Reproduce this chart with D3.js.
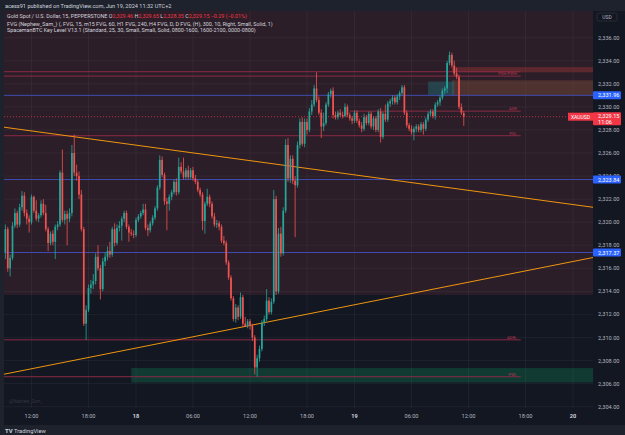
<!DOCTYPE html>
<html><head><meta charset="utf-8">
<script src="https://cdn.jsdelivr.net/npm/d3@7/dist/d3.min.js"></script>
<style>html,body{margin:0;padding:0;background:#1e222d;}svg{display:block;font-family:Roboto,"Liberation Sans",sans-serif;}</style>
</head><body><svg id="c" width="625" height="435"></svg>
<script>
// ---------- DATA ----------
const firstBar = -55; // bar index of first candle (0 = 18 Jun 00:00, 15-minute bars)
const candles = [ // [open, high, low, close]
[2317.4,2319.8,2316.8,2319.4],[2319.4,2319.6,2315.7,2316.0],[2316.0,2317.2,2315.3,2316.9],[2316.9,2320.0,2316.7,2319.7],
[2319.7,2321.2,2319.5,2320.8],[2320.8,2321.0,2319.5,2319.8],[2319.8,2321.6,2319.6,2321.3],[2321.3,2322.7,2321.0,2322.3],
[2322.3,2322.6,2320.5,2320.8],[2320.8,2321.1,2319.8,2320.3],[2320.3,2320.6,2319.1,2320.0],[2320.0,2322.4,2319.8,2322.2],
[2322.2,2322.3,2320.8,2321.0],[2321.0,2321.9,2320.1,2320.3],[2320.3,2320.8,2320.0,2320.6],[2320.6,2321.9,2320.4,2321.6],
[2321.6,2322.0,2320.6,2320.8],[2320.8,2321.5,2319.2,2319.4],[2319.4,2319.6,2317.5,2318.2],[2318.2,2319.2,2318.0,2319.0],
[2319.0,2319.3,2318.0,2318.3],[2318.3,2319.8,2316.8,2319.6],[2319.6,2320.1,2319.3,2319.8],[2319.8,2324.5,2319.6,2324.3],
[2324.3,2326.3,2320.0,2320.2],[2320.2,2321.0,2319.8,2320.7],[2320.7,2321.0,2318.0,2320.3],[2320.3,2321.2,2320.0,2320.8],
[2320.8,2326.7,2320.5,2326.0],[2326.0,2327.6,2324.0,2324.3],[2324.3,2325.0,2323.6,2324.0],[2324.0,2324.4,2322.0,2322.4],
[2322.4,2322.8,2319.2,2319.4],[2319.4,2319.6,2311.0,2311.2],[2311.2,2312.8,2309.8,2312.4],[2312.4,2314.6,2312.2,2314.3],
[2314.3,2315.0,2313.8,2314.6],[2314.6,2315.5,2314.2,2314.9],[2314.9,2317.3,2314.6,2317.0],[2317.0,2318.0,2315.8,2316.0],
[2316.0,2316.3,2313.3,2314.2],[2314.2,2316.9,2314.0,2316.6],[2316.6,2317.4,2316.2,2317.0],[2317.0,2317.9,2316.7,2317.5],
[2317.5,2318.3,2316.9,2317.2],[2317.2,2319.6,2317.0,2319.4],[2319.4,2319.9,2317.9,2318.2],[2318.2,2319.8,2318.0,2319.5],
[2319.5,2320.1,2319.2,2319.7],[2319.7,2320.5,2318.4,2320.3],[2320.3,2321.0,2320.0,2320.8],[2320.8,2321.0,2319.4,2319.6],
[2319.6,2319.8,2318.3,2319.1],[2319.1,2319.4,2318.8,2319.0],[2319.0,2319.3,2318.6,2318.9],
[2318.9,2320.4,2318.7,2320.2],[2320.2,2320.7,2320.0,2320.5],[2320.5,2321.0,2320.3,2320.8],[2320.8,2321.6,2320.6,2321.1],
[2321.1,2321.6,2319.3,2319.5],[2319.5,2319.8,2318.8,2319.3],[2319.3,2320.1,2319.1,2319.9],[2319.9,2320.6,2319.7,2320.4],
[2320.4,2321.4,2320.2,2321.2],[2321.2,2323.2,2321.0,2323.0],[2323.0,2325.8,2322.8,2325.4],[2325.4,2325.7,2323.9,2324.1],
[2324.1,2324.3,2321.5,2321.8],[2321.8,2322.1,2319.3,2321.6],[2321.6,2322.4,2321.0,2322.2],[2322.2,2322.8,2321.9,2322.6],
[2322.6,2323.7,2322.4,2323.5],[2323.5,2323.8,2322.3,2322.6],[2322.6,2325.6,2322.4,2324.8],[2324.8,2325.2,2324.2,2324.4],
[2324.4,2325.6,2323.7,2323.9],[2323.9,2324.7,2323.7,2324.5],[2324.5,2324.9,2323.7,2323.9],[2323.9,2324.7,2323.7,2324.5],
[2324.5,2324.8,2323.6,2323.8],[2323.8,2324.1,2323.3,2323.5],[2323.5,2323.7,2322.6,2322.8],[2322.8,2323.0,2322.2,2322.4],
[2322.4,2322.6,2319.3,2320.1],[2320.1,2321.8,2319.0,2321.6],[2321.6,2322.9,2321.4,2322.2],[2322.2,2322.4,2321.3,2321.6],
[2321.6,2321.8,2320.3,2320.5],[2320.5,2320.8,2319.6,2319.8],[2319.8,2320.2,2319.5,2319.9],[2319.9,2320.1,2319.3,2319.6],
[2319.6,2319.8,2318.2,2318.4],[2318.4,2318.8,2318.0,2318.2],[2318.2,2318.4,2316.3,2316.5],[2316.5,2316.7,2315.0,2315.2],
[2315.2,2315.4,2313.2,2313.4],[2313.4,2313.6,2311.4,2311.6],[2311.6,2312.9,2311.3,2312.6],[2312.6,2312.8,2311.5,2311.8],
[2311.8,2313.9,2311.6,2313.5],[2313.5,2313.7,2310.9,2311.2],[2311.2,2311.8,2310.9,2311.0],[2311.0,2311.6,2310.8,2311.4],
[2311.4,2311.6,2310.7,2311.0],[2311.0,2311.2,2309.7,2310.0],[2310.0,2310.2,2306.8,2307.4],[2307.4,2308.5,2306.6,2308.2],
[2308.2,2309.3,2307.9,2309.0],[2309.0,2311.5,2308.8,2311.3],[2311.3,2311.9,2311.0,2311.6],[2311.6,2314.2,2311.4,2313.2],
[2313.2,2313.5,2312.0,2312.2],[2312.2,2313.4,2312.0,2313.1],[2313.1,2322.8,2312.9,2322.0],[2322.0,2322.3,2313.7,2314.0],
[2314.0,2319.5,2313.8,2319.0],[2319.0,2319.6,2317.0,2317.3],[2317.3,2321.3,2317.1,2321.0],[2321.0,2327.2,2320.8,2326.7],
[2326.7,2327.3,2323.5,2323.8],[2323.8,2325.8,2323.4,2325.5],[2325.5,2325.8,2323.3,2323.6],[2323.6,2324.0,2318.7,2323.2],
[2323.2,2327.0,2323.0,2326.7],[2326.7,2329.0,2326.4,2328.7],[2328.7,2329.1,2326.6,2326.8],[2326.8,2329.0,2326.5,2328.7],
[2328.7,2329.0,2327.6,2328.0],[2328.0,2329.9,2327.8,2329.6],[2329.6,2330.6,2329.3,2330.2],[2330.2,2331.9,2330.0,2331.6],
[2331.6,2333.0,2330.4,2330.6],[2330.6,2330.9,2329.3,2329.5],[2329.5,2329.8,2327.3,2328.3],[2328.3,2329.5,2327.9,2328.6],
[2328.6,2330.4,2328.4,2330.2],[2330.2,2331.3,2330.0,2331.1],[2331.1,2331.6,2330.8,2331.4],[2331.4,2331.7,2329.0,2329.3],
[2329.3,2329.6,2328.9,2329.1],[2329.1,2329.7,2328.9,2329.5],[2329.5,2329.8,2329.1,2329.3],[2329.3,2329.6,2329.0,2329.2],
[2329.2,2330.3,2329.1,2330.0],[2330.0,2330.2,2329.1,2329.3],[2329.3,2329.5,2328.8,2329.0],[2329.0,2329.2,2328.5,2328.8],
[2328.8,2329.7,2328.6,2329.5],[2329.5,2329.7,2328.6,2328.8],[2328.8,2329.0,2328.2,2328.4],[2328.4,2328.7,2327.8,2328.1],
[2328.1,2329.4,2327.9,2329.1],[2329.1,2329.3,2328.4,2328.6],[2328.6,2329.6,2328.4,2329.4],[2329.4,2329.6,2328.1,2328.3],
[2328.3,2329.2,2328.0,2329.0],[2329.0,2329.2,2327.8,2328.0],[2328.0,2329.8,2327.8,2329.6],[2329.6,2329.9,2326.9,2327.4],
[2327.4,2329.6,2327.2,2329.4],[2329.4,2330.2,2328.7,2328.9],[2328.9,2330.5,2328.7,2330.3],[2330.3,2330.7,2330.0,2330.5],
[2330.5,2331.0,2330.2,2330.8],[2330.8,2331.0,2330.2,2330.4],[2330.4,2331.1,2330.2,2330.9],[2330.9,2331.4,2330.6,2331.2],
[2331.2,2331.9,2331.0,2331.7],[2331.7,2331.9,2329.3,2329.5],[2329.5,2329.7,2328.2,2328.4],[2328.4,2328.6,2327.9,2328.1],
[2328.1,2328.4,2327.6,2327.8],[2327.8,2328.3,2327.1,2328.1],[2328.1,2328.5,2327.8,2328.3],[2328.3,2328.5,2327.8,2328.0],
[2328.0,2328.7,2327.8,2328.5],[2328.5,2328.7,2327.6,2328.1],[2328.1,2329.1,2327.9,2328.9],[2328.9,2329.6,2328.7,2329.4],
[2329.4,2329.8,2329.2,2329.6],[2329.6,2329.8,2329.0,2329.2],[2329.2,2330.4,2328.9,2330.2],[2330.2,2330.6,2330.0,2330.4],
[2330.4,2331.0,2330.1,2330.8],[2330.8,2331.6,2330.6,2331.4],[2331.4,2331.8,2331.1,2331.6],[2331.6,2334.0,2331.2,2333.8],
[2333.8,2334.8,2333.6,2334.5],[2334.5,2334.7,2333.4,2333.6],[2333.6,2334.0,2332.7,2332.9],[2332.9,2333.4,2332.4,2332.6],
[2332.6,2332.8,2329.8,2330.0],[2330.0,2330.3,2329.3,2329.5],[2329.46,2329.65,2328.35,2329.15]
];
const priceTicks = [2304,2306,2308,2310,2312,2314,2316,2318,2320,2322,2324,2326,2328,2330,2332,2334,2336];
const timeTickBars = [-44,-20,0,24,48,72,92,116,140,164,184];
const timeTickLabels = ["12:00","18:00","18","06:00","12:00","18:00","19","06:00","12:00","18:00","20"];
const dayTicks = ["18","19","20"];
const trendDown = [[-56,2328.25],[194,2321.25]];
const trendUp = [[-56,2306.8],[194,2317.0]];
const blueLines = [2331.0,2323.7,2317.37];
const blueLabels = [2331.96,2323.84,2317.37];
const keyLines = [ // [price, startBar, endBar, label]
  [2333.05,-56,162,""],[2332.67,-56,162,"PDH/PWH"],[2329.63,90,162,"ADR"],[2327.5,-56,162,"PDL"],
  [2309.8,-56,162,"ADRL"],[2306.6,-56,162,"PWL"]];
const premiumZone = [2313.7, 2339];
const demandZone = [2306.1, 2307.35, -2];
const fvgRed = [2333.0, 2333.45, 133];
const fvgBrown = [2331.0, 2332.3, 133];
const fvgTeal = [2331.0, 2332.2, 123, 134];
const lastPrice = 2329.15, lastOpen = 2329.46, lastHigh = 2329.65, lastLow = 2328.35, chg = -0.29, chgPct = -0.01;

// ---------- LAYOUT ----------
const L = 4, R = 593, T = 11, B = 408;
const svg = d3.select("#c");
const x = d3.scaleLinear().domain([0,92]).range([136,354.5]);
const y = d3.scaleLinear().domain([2304,2336]).range([406.7,37.7]);
const fmt = d3.format(",.2f");

svg.append("rect").attr("width",625).attr("height",435).attr("fill","#1e222d");
svg.append("rect").attr("x",L).attr("y",T).attr("width",625-L).attr("height",B-T+17).attr("fill","#131722");
const defs = svg.append("defs");
defs.append("clipPath").attr("id","pane").append("rect").attr("x",L).attr("y",T).attr("width",R-L).attr("height",B-T);
const pane = svg.append("g").attr("clip-path","url(#pane)");

// zones
pane.append("rect").attr("x",L).attr("width",R-L).attr("y",y(premiumZone[1])).attr("height",y(premiumZone[0])-y(premiumZone[1])).attr("fill","#2c1e28");
pane.append("rect").attr("x",x(demandZone[2])).attr("width",R-x(demandZone[2])).attr("y",y(demandZone[1])).attr("height",y(demandZone[0])-y(demandZone[1])).attr("fill","#113a33");

// grid
pane.selectAll(".hg").data(priceTicks).join("line").attr("x1",L).attr("x2",R).attr("y1",d=>y(d)).attr("y2",d=>y(d)).attr("stroke","rgba(120,123,134,0.10)");
pane.selectAll(".vg").data(timeTickBars).join("line").attr("x1",d=>x(d)).attr("x2",d=>x(d)).attr("y1",T).attr("y2",B).attr("stroke","rgba(120,123,134,0.10)");

// FVG boxes
pane.append("rect").attr("x",x(fvgRed[2])).attr("width",R-x(fvgRed[2])).attr("y",y(fvgRed[1])).attr("height",y(fvgRed[0])-y(fvgRed[1])).attr("fill","rgba(150,50,50,0.45)");
pane.append("rect").attr("x",x(fvgBrown[2])).attr("width",R-x(fvgBrown[2])).attr("y",y(fvgBrown[1])).attr("height",y(fvgBrown[0])-y(fvgBrown[1])).attr("fill","rgba(130,80,60,0.40)");
pane.append("rect").attr("x",x(fvgTeal[2])).attr("width",x(fvgTeal[3])-x(fvgTeal[2])).attr("y",y(fvgTeal[1])).attr("height",y(fvgTeal[0])-y(fvgTeal[1])).attr("fill","rgba(30,110,120,0.45)");

// key lines
pane.selectAll(".kl").data(keyLines).join("line").attr("x1",d=>x(d[1])).attr("x2",d=>x(d[2])).attr("y1",d=>y(d[0])).attr("y2",d=>y(d[0])).attr("stroke","#8a2a45").attr("stroke-width",1);
pane.selectAll(".klt").data(keyLines).join("text").attr("x",d=>x(d[2])-4).attr("y",d=>y(d[0])-1).attr("text-anchor","end").attr("font-size",4).attr("fill","#b0364f").text(d=>d[3]);
// blue lines
pane.selectAll(".bl").data(blueLines).join("line").attr("x1",L).attr("x2",R).attr("y1",d=>y(d)).attr("y2",d=>y(d)).attr("stroke","#3f4cb0").attr("stroke-width",1);
// trendlines
[trendDown,trendUp].forEach(t=>pane.append("line").attr("x1",x(t[0][0])).attr("y1",y(t[0][1])).attr("x2",x(t[1][0])).attr("y2",y(t[1][1])).attr("stroke","#f0960f").attr("stroke-width",1));
// last price line
pane.append("line").attr("x1",L).attr("x2",R).attr("y1",y(lastPrice)).attr("y2",y(lastPrice)).attr("stroke","#f23645").attr("stroke-dasharray","1,2").attr("stroke-opacity",0.7);

// candles
const cg = pane.append("g");
const cdata = candles.map((c,i)=>({i:firstBar+i,o:c[0],h:c[1],l:c[2],c:c[3]}));
const col = d=>d.c>=d.o?"#26a69a":"#ef5350";
cg.selectAll(".w").data(cdata).join("line").attr("x1",d=>x(d.i)).attr("x2",d=>x(d.i)).attr("y1",d=>y(d.h)).attr("y2",d=>y(d.l)).attr("stroke",col).attr("stroke-width",0.8);
cg.selectAll(".b").data(cdata).join("rect").attr("x",d=>x(d.i)-0.85).attr("width",1.7).attr("y",d=>y(Math.max(d.o,d.c))).attr("height",d=>Math.max(0.8,Math.abs(y(d.o)-y(d.c)))).attr("fill",col);

// watermark
svg.append("text").attr("x",9).attr("y",403).attr("font-size",4.5).attr("fill","rgba(200,200,210,0.18)").text("@Nephew_Sam_");

// price axis
const ax = svg.append("g");
ax.selectAll("text").data(priceTicks).join("text").attr("x",598).attr("y",d=>y(d)+2).attr("font-size",5.6).attr("fill","#b2b5be").text(d=>fmt(d));
ax.append("rect").attr("x",597).attr("y",13).attr("width",20).attr("height",8).attr("rx",1.5).attr("fill","#131722").attr("stroke","#363a45").attr("stroke-width",0.6);
ax.append("text").attr("x",607).attr("y",19).attr("text-anchor","middle").attr("font-size",5).attr("fill","#b2b5be").text("USD");
blueLabels.forEach((p,k)=>{
  const yy = y(blueLines[k]);
  ax.append("rect").attr("x",593).attr("y",yy-4).attr("width",28).attr("height",8).attr("rx",1).attr("fill","#2962ff");
  ax.append("text").attr("x",598).attr("y",yy+2).attr("font-size",5.6).attr("fill","#fff").text(fmt(p));
});
ax.append("rect").attr("x",593).attr("y",y(lastPrice)-4.5).attr("width",28).attr("height",13).attr("rx",1).attr("fill","#f23645");
ax.append("text").attr("x",598).attr("y",y(lastPrice)+1.8).attr("font-size",5.6).attr("fill","#fff").text(fmt(lastPrice));
ax.append("text").attr("x",598).attr("y",y(lastPrice)+7.5).attr("font-size",5.6).attr("fill","#fff").text("11:06");
svg.append("rect").attr("x",568).attr("y",y(lastPrice)-4).attr("width",25).attr("height",8).attr("fill","#f23645");
svg.append("text").attr("x",580.5).attr("y",y(lastPrice)+2).attr("text-anchor","middle").attr("font-size",5).attr("fill","#fff").text("XAUUSD");

// time axis
svg.selectAll(".tt").data(timeTickBars).join("text").attr("x",d=>x(d)).attr("y",418).attr("text-anchor","middle").attr("font-size",5.6)
  .attr("fill",(d,i)=>dayTicks.includes(timeTickLabels[i])?"#d1d4dc":"#b2b5be").attr("font-weight",(d,i)=>dayTicks.includes(timeTickLabels[i])?"bold":"normal").text((d,i)=>timeTickLabels[i]);

// header
svg.append("text").attr("x",5).attr("y",7.5).attr("font-size",5.6).attr("fill","#d1d4dc").text("acess91 published on TradingView.com, Jun 19, 2024 11:32 UTC+2");
const l1 = svg.append("text").attr("x",7).attr("y",18).attr("font-size",5.4).attr("fill","#d1d4dc");
l1.append("tspan").text("Gold Spot / U.S. Dollar, 15, PEPPERSTONE  ");
[["O",lastOpen],["H",lastHigh],["L",lastLow],["C",lastPrice]].forEach(([k,v])=>{l1.append("tspan").text(k);l1.append("tspan").attr("fill","#f23645").text(fmt(v)+" ");});
l1.append("tspan").attr("fill","#f23645").text("\u2212"+Math.abs(chg).toFixed(2)+" (\u2212"+Math.abs(chgPct).toFixed(2)+"%)");
svg.append("text").attr("x",7).attr("y",25.5).attr("font-size",5.4).attr("fill","#d1d4dc").text("FVG (Nephew_Sam_) (, FVG, 15, m15 FVG, 60, H1 FVG, 240, H4 FVG, D, D FVG, (H), 300, 10, Right, Small, Solid, 1)");
svg.append("text").attr("x",7).attr("y",32).attr("font-size",5.4).attr("fill","#d1d4dc").text("SpacemanBTC Key Level V13.1 (Standard, 25, 30, Small, Small, Solid, 0800-1600, 1600-2100, 0000-0800)");

// footer
svg.append("text").attr("x",5).attr("y",433).attr("font-size",6).attr("font-weight","bold").attr("fill","#d1d4dc").text("TV");
svg.append("text").attr("x",14).attr("y",433).attr("font-size",5.8).attr("fill","#d1d4dc").text("TradingView");
</script></body></html>
